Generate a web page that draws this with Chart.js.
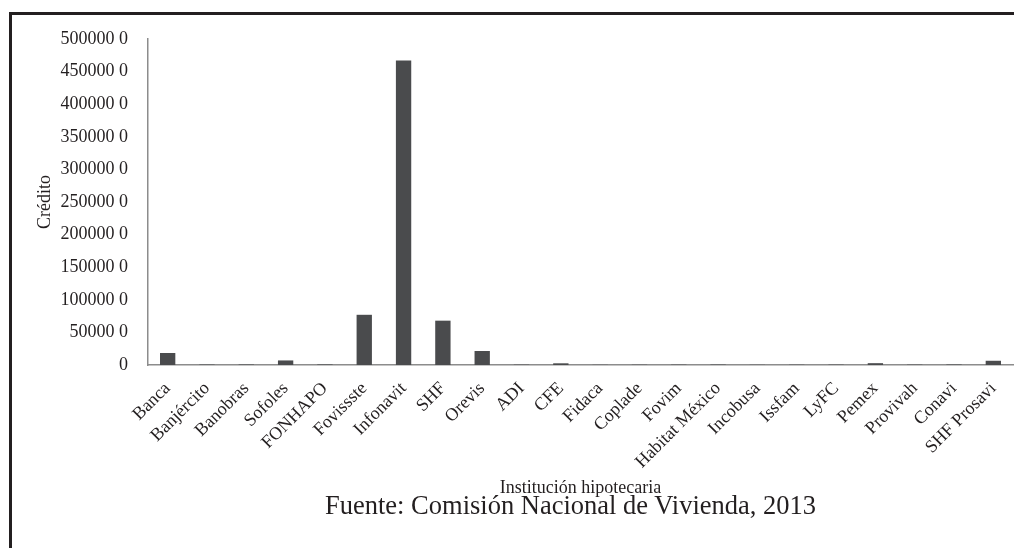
<!DOCTYPE html>
<html>
<head>
<meta charset="utf-8">
<script src="https://cdn.jsdelivr.net/npm/chart.js@4"></script>
<style>
  html, body { margin: 0; padding: 0; background: #fff; }
  body { width: 1014px; height: 548px; position: relative; overflow: hidden; }
  .frame { position: absolute; left: 9px; top: 12px; width: 1100px; height: 600px;
           border-top: 3px solid #231f20; border-left: 3px solid #231f20; }
  .wrap { position: absolute; left: 0; top: 0; width: 1014px; height: 548px; }
  .fuente { position: absolute; left: 325px; top: 492px; font: 26.5px/1 'Liberation Serif', 'Times New Roman', serif;
            color: #231f20; white-space: nowrap; }
</style>
</head>
<body>
<div class="frame"></div>
<div class="wrap"><canvas id="creditChart"></canvas></div>
<div class="fuente">Fuente: Comisión Nacional de Vivienda, 2013</div>
<script>
const instituciones = ['Banca', 'Banjército', 'Banobras', 'Sofoles', 'FONHAPO', 'Fovissste',
  'Infonavit', 'SHF', 'Orevis', 'ADI', 'CFE', 'Fidaca', 'Coplade', 'Fovim', 'Habitat México',
  'Incobusa', 'Issfam', 'LyFC', 'Pemex', 'Provivah', 'Conavi', 'SHF Prosavi'];
const creditos = [18400, 600, 700, 7000, 800, 77000, 467000, 68000, 21500, 500, 2600,
  300, 400, 500, 600, 300, 400, 500, 2800, 500, 700, 6500];
const yTickLabels = ['0', '50000 0', '100000 0', '150000 0', '200000 0', '250000 0',
  '300000 0', '350000 0', '400000 0', '450000 0', '500000 0'];

const serif = 'Liberation Serif, Times New Roman, serif';
const ink = '#231f20';

new Chart(document.getElementById('creditChart'), {
  type: 'bar',
  data: {
    labels: instituciones,
    datasets: [{
      label: 'Crédito',
      data: creditos,
      backgroundColor: '#4a4b4d',
      categoryPercentage: 1,
      barPercentage: 0.39
    }]
  },
  options: {
    responsive: true,
    maintainAspectRatio: false,
    animation: false,
    layout: { padding: { left: 30, top: 39, right: 1, bottom: 50.5 } },
    plugins: {
      legend: { display: false },
      tooltip: { enabled: false }
    },
    scales: {
      x: {
        grid: { display: false, drawTicks: false },
        border: { color: '#8c8c8c', width: 1.5 },
        ticks: {
          color: ink,
          font: { family: serif, size: 18 },
          maxRotation: 45,
          minRotation: 45,
          autoSkip: false,
          padding: 13
        },
        title: {
          display: true,
          text: 'Institución hipotecaria',
          color: ink,
          font: { family: serif, size: 18, lineHeight: 1 },
          padding: { top: 0, bottom: 0 }
        },
        afterFit: s => { s.height = 132.5; s.paddingRight = 0; s.paddingLeft = 0; }
      },
      y: {
        min: 0,
        max: 500000,
        grid: { display: false, drawTicks: false },
        border: { color: '#8c8c8c', width: 1.5 },
        ticks: {
          stepSize: 50000,
          color: ink,
          padding: 20,
          font: { family: serif, size: 18 },
          callback: (v, i) => yTickLabels[i]
        },
        title: {
          display: true,
          text: 'Crédito',
          color: ink,
          font: { family: serif, size: 18 }
        },
        afterFit: s => { s.width = 118; }
      }
    }
  }
});
</script>
</body>
</html>
